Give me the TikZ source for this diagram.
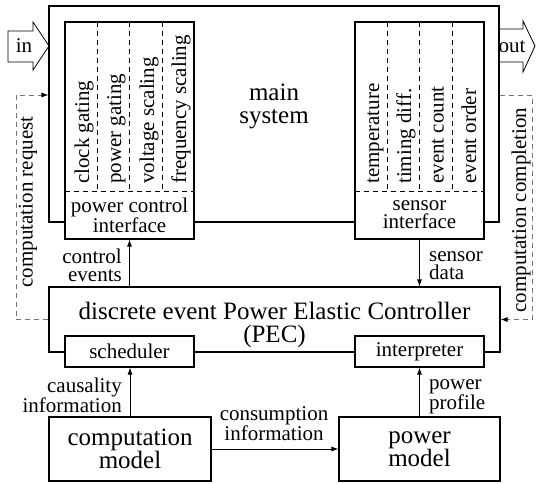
\documentclass[tikz,border=0pt]{standalone}
\usepackage{fontspec}
\setmainfont{Liberation Serif}
\usetikzlibrary{arrows.meta}

\tikzset{
  box/.style={draw, line width=1.1pt, fill=white, inner sep=0pt},
  big/.style={font=\fontsize{25}{23}\selectfont, align=center, inner sep=0pt},
  small/.style={font=\fontsize{21}{18}\selectfont, align=center, inner sep=0pt},
  col/.style={small, rotate=90, anchor=base west},
  sep/.style={dash pattern=on 5pt off 4pt, line width=0.7pt},
  flow/.style={dash pattern=on 5pt off 4pt, line width=0.8pt, draw=black!55, -{Latex[length=7pt,width=5pt,black]}},
  arr/.style={line width=0.8pt, -{Latex[length=7pt,width=5pt]}}
}

\begin{document}
\begin{tikzpicture}[x=1pt, y=-1pt]
\useasboundingbox (0,0) rectangle (536,483);
\node[box, minimum width=450pt, minimum height=216pt] (main) at (274,114) {};
\node[big] (maintxt) at (274,106) {main\\system};
\draw [line width=0.8pt] (8,31) -- (33,31) -- (33,22) -- (49,46) -- (33,70) -- (33,62) -- (8,62) -- cycle;
\node[small] (intxt) at (24,46) {in};
\draw [line width=0.8pt] (499,29) -- (523,29) -- (523,21) -- (535,46) -- (523,72) -- (523,62) -- (499,62);
\node[small] (outtxt) at (512,47) {out};
\node[box, minimum width=129pt, minimum height=217pt] (pci) at (129.5,130.5) {};
\draw [sep] (65,191) -- (194,191);
\foreach \x in {97, 129.5, 162}{\draw [sep] (\x,22) -- (\x,191);}
\node[col] (cg) at (89,184) {clock gating};
\node[col] (pg) at (121,184) {power gating};
\node[col] (vs) at (154,184) {voltage scaling};
\node[col] (fs) at (186,184) {frequency scaling};
\node[small] (pcitxt) at (129.5,215) {power control\\interface};
\node[box, minimum width=129pt, minimum height=217pt] (si) at (419.5,130.5) {};
\draw [sep] (355,191) -- (484,191);
\foreach \x in {387, 419.5, 452}{\draw [sep] (\x,22) -- (\x,191);}
\node[col] (tp) at (379,184) {temperature};
\node[col] (td) at (411,184) {timing diff.};
\node[col] (ec) at (443.5,184) {event count};
\node[col] (eo) at (476,184) {event order};
\node[small] (sitxt) at (419.5,215) {sensor\\interface};
\node[box, minimum width=451pt, minimum height=65pt] (pec) at (274.5,319.5) {};
\node[big] (pectxt) at (274.5,325) {discrete event Power Elastic Controller\\(PEC)};
\node[box, small, minimum width=129pt, minimum height=31pt] (sch) at (129.5,351.5) {scheduler};
\node[box, small, minimum width=129pt, minimum height=31pt] (intp) at (419.5,351.5) {interpreter};
\node[box, big, minimum width=162pt, minimum height=64pt] (cm) at (130,449) {computation\\model};
\node[box, big, minimum width=161pt, minimum height=64pt] (pm) at (419.5,449) {power\\model};
\draw [arr] (pec.north -| pci.south) -- (pci.south);
\node[small, align=right, anchor=east] (ctrl) at (122,265) {control\\events};
\draw [arr] (si.south) -- (si.south |- pec.north);
\node[small, align=left, anchor=west] (sens) at (429,266) {sensor\\data};
\draw [arr] (cm.north) -- (cm.north |- sch.south);
\node[small, align=right, anchor=east] (caus) at (122,395) {causality\\information};
\draw [arr] (pm.north) -- (pm.north |- intp.south);
\node[small, align=left, anchor=west] (prof) at (429,397) {power\\profile};
\draw [arr] (cm.east) -- (pm.west);
\node[small] (cons) at (274,424) {consumption\\information};
\coordinate (reqtop) at (16,95);
\draw [flow] (pec.west) -| (reqtop) -- (reqtop -| main.west);
\node[small, rotate=90] (reqtxt) at (28,202) {computation request};
\coordinate (cmptop) at (532,95);
\draw [flow] (cmptop -| main.east) -- (cmptop) |- (pec.east);
\node[small, rotate=90] (cmptxt) at (521,210) {computation completion};
\end{tikzpicture}
\end{document}
